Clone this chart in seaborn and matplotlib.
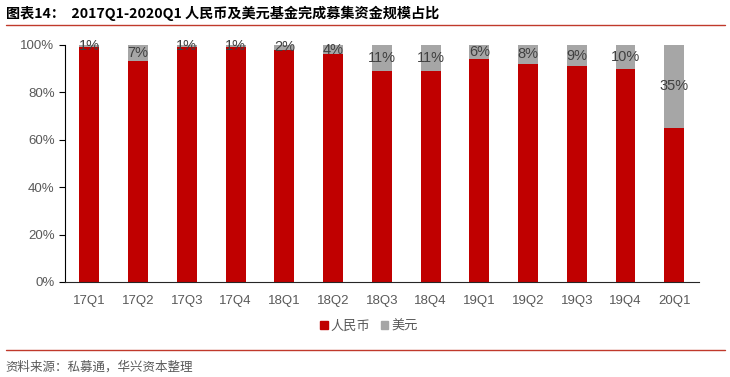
import pandas as pd
import matplotlib.pyplot as plt
import seaborn as sns
from matplotlib.patches import Patch
from matplotlib.lines import Line2D

quarters = ["17Q1", "17Q2", "17Q3", "17Q4", "18Q1", "18Q2", "18Q3",
            "18Q4", "19Q1", "19Q2", "19Q3", "19Q4", "20Q1"]
usd_share = [1, 7, 1, 1, 2, 4, 11, 11, 6, 8, 9, 10, 35]
rmb_share = [100 - v for v in usd_share]

RED = "#C00000"
GRAY = "#A6A6A6"
TEXT = "#595959"

sns.set_style("white")
plt.rcParams["font.family"] = ["Liberation Sans", "Noto Sans CJK SC", "DejaVu Sans"]

df = pd.DataFrame({"quarter": quarters, "rmb": rmb_share, "usd": usd_share})
df["total"] = df["rmb"] + df["usd"]

fig = plt.figure(figsize=(7.3, 3.77), dpi=100)
ax = fig.add_axes([0.089, 0.252, 0.868, 0.629])

sns.barplot(data=df, x="quarter", y="total", color=GRAY, width=0.41,
            saturation=1, linewidth=0, ax=ax)
sns.barplot(data=df, x="quarter", y="rmb", color=RED, width=0.41,
            saturation=1, linewidth=0, ax=ax)

for i, (r, u) in enumerate(zip(rmb_share, usd_share)):
    ax.text(i, r + u / 2, f"{u}%", ha="center", va="center",
            fontsize=10.5, color="#404040")

ax.set_ylim(0, 100)
ax.set_yticks(range(0, 101, 20))
ax.set_yticklabels([f"{v}%" for v in range(0, 101, 20)])
ax.set_xlim(-0.5, len(quarters) - 0.5)
ax.set_xlabel("")
ax.set_ylabel("")
for s in ["top", "right"]:
    ax.spines[s].set_visible(False)
ax.spines["left"].set_color("#000000")
ax.spines["left"].set_linewidth(0.8)
ax.spines["bottom"].set_color("#262626")
ax.spines["bottom"].set_linewidth(0.8)
ax.tick_params(axis="y", left=True, length=4, width=0.8, color="#000000",
               labelsize=9.5, labelcolor=TEXT)
ax.tick_params(axis="x", bottom=False, labelsize=9.5, labelcolor=TEXT, pad=6)

handles = [Patch(color=RED, label="人民币"), Patch(color=GRAY, label="美元")]
fig.legend(handles=handles, loc="center", bbox_to_anchor=(0.505, 0.135),
           ncol=2, frameon=False, handlelength=0.6,
           handleheight=0.6, handletextpad=0.2, columnspacing=0.8,
           labelcolor=TEXT, prop={"family": ["Noto Sans CJK SC"], "size": 9.5})

fig.text(0.008, 0.965, "图表14：  2017Q1-2020Q1 人民币及美元基金完成募集资金规模占比",
         fontsize=10.2, fontweight="bold", color="#000000", va="center",
         family=["Noto Sans CJK SC", "DejaVu Sans"])
fig.add_artist(Line2D([0.008, 0.993], [0.935, 0.935], color="#C0392B", lw=1.0))
fig.add_artist(Line2D([0.008, 0.993], [0.072, 0.072], color="#C0392B", lw=1.0))
fig.text(0.008, 0.025, "资料来源：私募通，华兴资本整理", fontsize=9,
         color=TEXT, va="center", family=["Noto Sans CJK SC", "DejaVu Sans"])

fig.savefig("out.png", dpi=100)
